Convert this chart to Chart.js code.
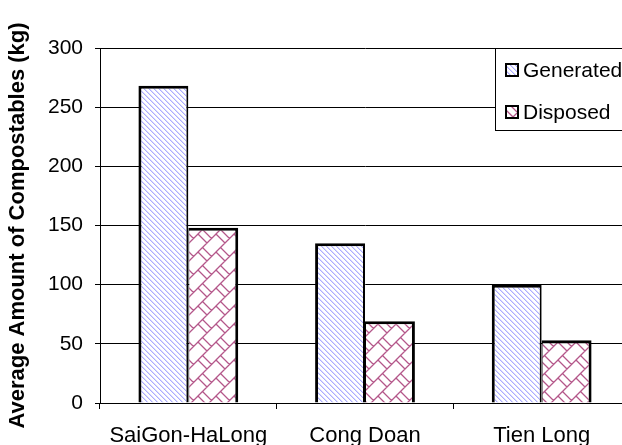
<!DOCTYPE html>
<html>
<head>
<meta charset="utf-8">
<script src="https://cdn.jsdelivr.net/npm/chart.js@4"></script>
<style>
  html, body { margin: 0; padding: 0; background: #fff; overflow: hidden; }
  #wrap { position: relative; width: 640px; height: 445px; }
</style>
</head>
<body>
<div id="wrap"><canvas id="compostChart"></canvas></div>
<script>
const sites = ['SaiGon-HaLong', 'Cong Doan', 'Tien Long'];
const generated = [268, 135, 100];
const disposed = [148, 69, 53];
const seriesNames = ['Generated', 'Disposed'];
const yTicks = [0, 50, 100, 150, 200, 250, 300];

const FONT = '"Liberation Sans", Arial, sans-serif';

// light blue diagonal stripes
function stripePattern() {
    const c = document.createElement('canvas');
    c.width = c.height = 5;
    const g = c.getContext('2d');
    const img = g.createImageData(5, 5);
    for (let y = 0; y < 5; y++) {
        for (let x = 0; x < 5; x++) {
            const d = (x - y + 10) % 5;
            let col = [255, 255, 255];
            if (d === 0) col = [172, 172, 255];
            else if (d === 1) col = [218, 218, 255];
            const i = (y * 5 + x) * 4;
            img.data[i] = col[0]; img.data[i + 1] = col[1]; img.data[i + 2] = col[2]; img.data[i + 3] = 255;
        }
    }
    g.putImageData(img, 0, 0);
    return g.createPattern(c, 'repeat');
}

// magenta diagonal brick
function brickPattern() {
    const T = 18;
    const c = document.createElement('canvas');
    c.width = c.height = T;
    const g = c.getContext('2d');
    g.fillStyle = '#fff';
    g.fillRect(0, 0, T, T);
    g.strokeStyle = '#b4578a';
    g.lineWidth = 1.3;
    g.beginPath();
    [-T, 0, T, 2 * T, 3 * T].forEach(function (k) {
        g.moveTo(-T, k + T);
        g.lineTo(k + T, -T);
    });
    const h = T / 2, q = T / 4;
    const segs = [[0, T, h, T + h], [q, -q, q + h, h - q]];
    [-T, 0, T].forEach(function (dx) {
        [-T, 0, T].forEach(function (dy) {
            segs.forEach(function (s) {
                g.moveTo(s[0] + dx, s[1] + dy);
                g.lineTo(s[2] + dx, s[3] + dy);
            });
        });
    });
    g.stroke();
    return g.createPattern(c, 'repeat');
}

const fills = [stripePattern(), brickPattern()];

// legend box sitting in the upper right of the plot
const boxLegend = {
    id: 'boxLegend',
    afterDatasetsDraw(chart) {
        const ctx = chart.ctx;
        const x0 = 495, y0 = 48, w = 150, h = 82;
        ctx.save();
        ctx.fillStyle = '#fff';
        ctx.fillRect(x0, y0, w, h);
        ctx.strokeStyle = '#000';
        ctx.lineWidth = 1;
        ctx.strokeRect(x0 + 0.5, y0 + 0.5, w, h);
        ctx.font = '21px ' + FONT;
        ctx.textBaseline = 'middle';
        chart.data.datasets.forEach(function (ds, i) {
            const cy = 70 + i * 42;
            ctx.fillStyle = ds.backgroundColor;
            ctx.fillRect(505, cy - 7, 14, 14);
            ctx.lineWidth = 2;
            ctx.strokeRect(506, cy - 6, 12, 12);
            ctx.fillStyle = '#000';
            ctx.fillText(ds.label, 523, cy + 1);
        });
        ctx.restore();
    }
};

new Chart(document.getElementById('compostChart'), {
    type: 'bar',
    data: {
        labels: sites,
        datasets: [
            {
                label: seriesNames[0],
                data: generated,
                backgroundColor: fills[0],
                borderColor: '#000',
                borderWidth: { left: 3, top: 3, right: 2, bottom: 0 },
                borderSkipped: 'start'
            },
            {
                label: seriesNames[1],
                data: disposed,
                backgroundColor: fills[1],
                borderColor: '#000',
                borderWidth: { left: 1, top: 3, right: 3, bottom: 0 },
                borderSkipped: 'start'
            }
        ]
    },
    options: {
        responsive: true,
        maintainAspectRatio: false,
        animation: false,
        layout: { padding: { top: 48, right: 10, left: 0, bottom: 0 } },
        barPercentage: 1,
        categoryPercentage: 0.565,
        plugins: {
            legend: { display: false },
            tooltip: { enabled: false }
        },
        scales: {
            x: {
                offset: true,
                border: { color: '#000', width: 1 },
                grid: { drawOnChartArea: false, color: '#000', tickLength: 6, offset: true },
                ticks: { color: '#000', font: { family: FONT, size: 22 }, padding: 14, maxRotation: 0 },
                afterFit: function (scale) { scale.height = 42; }
            },
            y: {
                min: 0,
                max: 300,
                afterBuildTicks: function (scale) {
                    scale.ticks = yTicks.map(function (v) { return { value: v }; });
                },
                border: { color: '#000', width: 1 },
                grid: { color: '#000', lineWidth: 1, tickLength: 5 },
                ticks: { color: '#000', font: { family: FONT, size: 21 }, padding: 12 },
                title: {
                    display: true,
                    text: 'Average Amount of Compostables (kg)',
                    color: '#000',
                    font: { family: FONT, size: 22, weight: 'bold' },
                    padding: { top: 5, bottom: 0 }
                },
                afterFit: function (scale) { scale.width = 100; }
            }
        }
    },
    plugins: [boxLegend]
});
</script>
</body>
</html>
